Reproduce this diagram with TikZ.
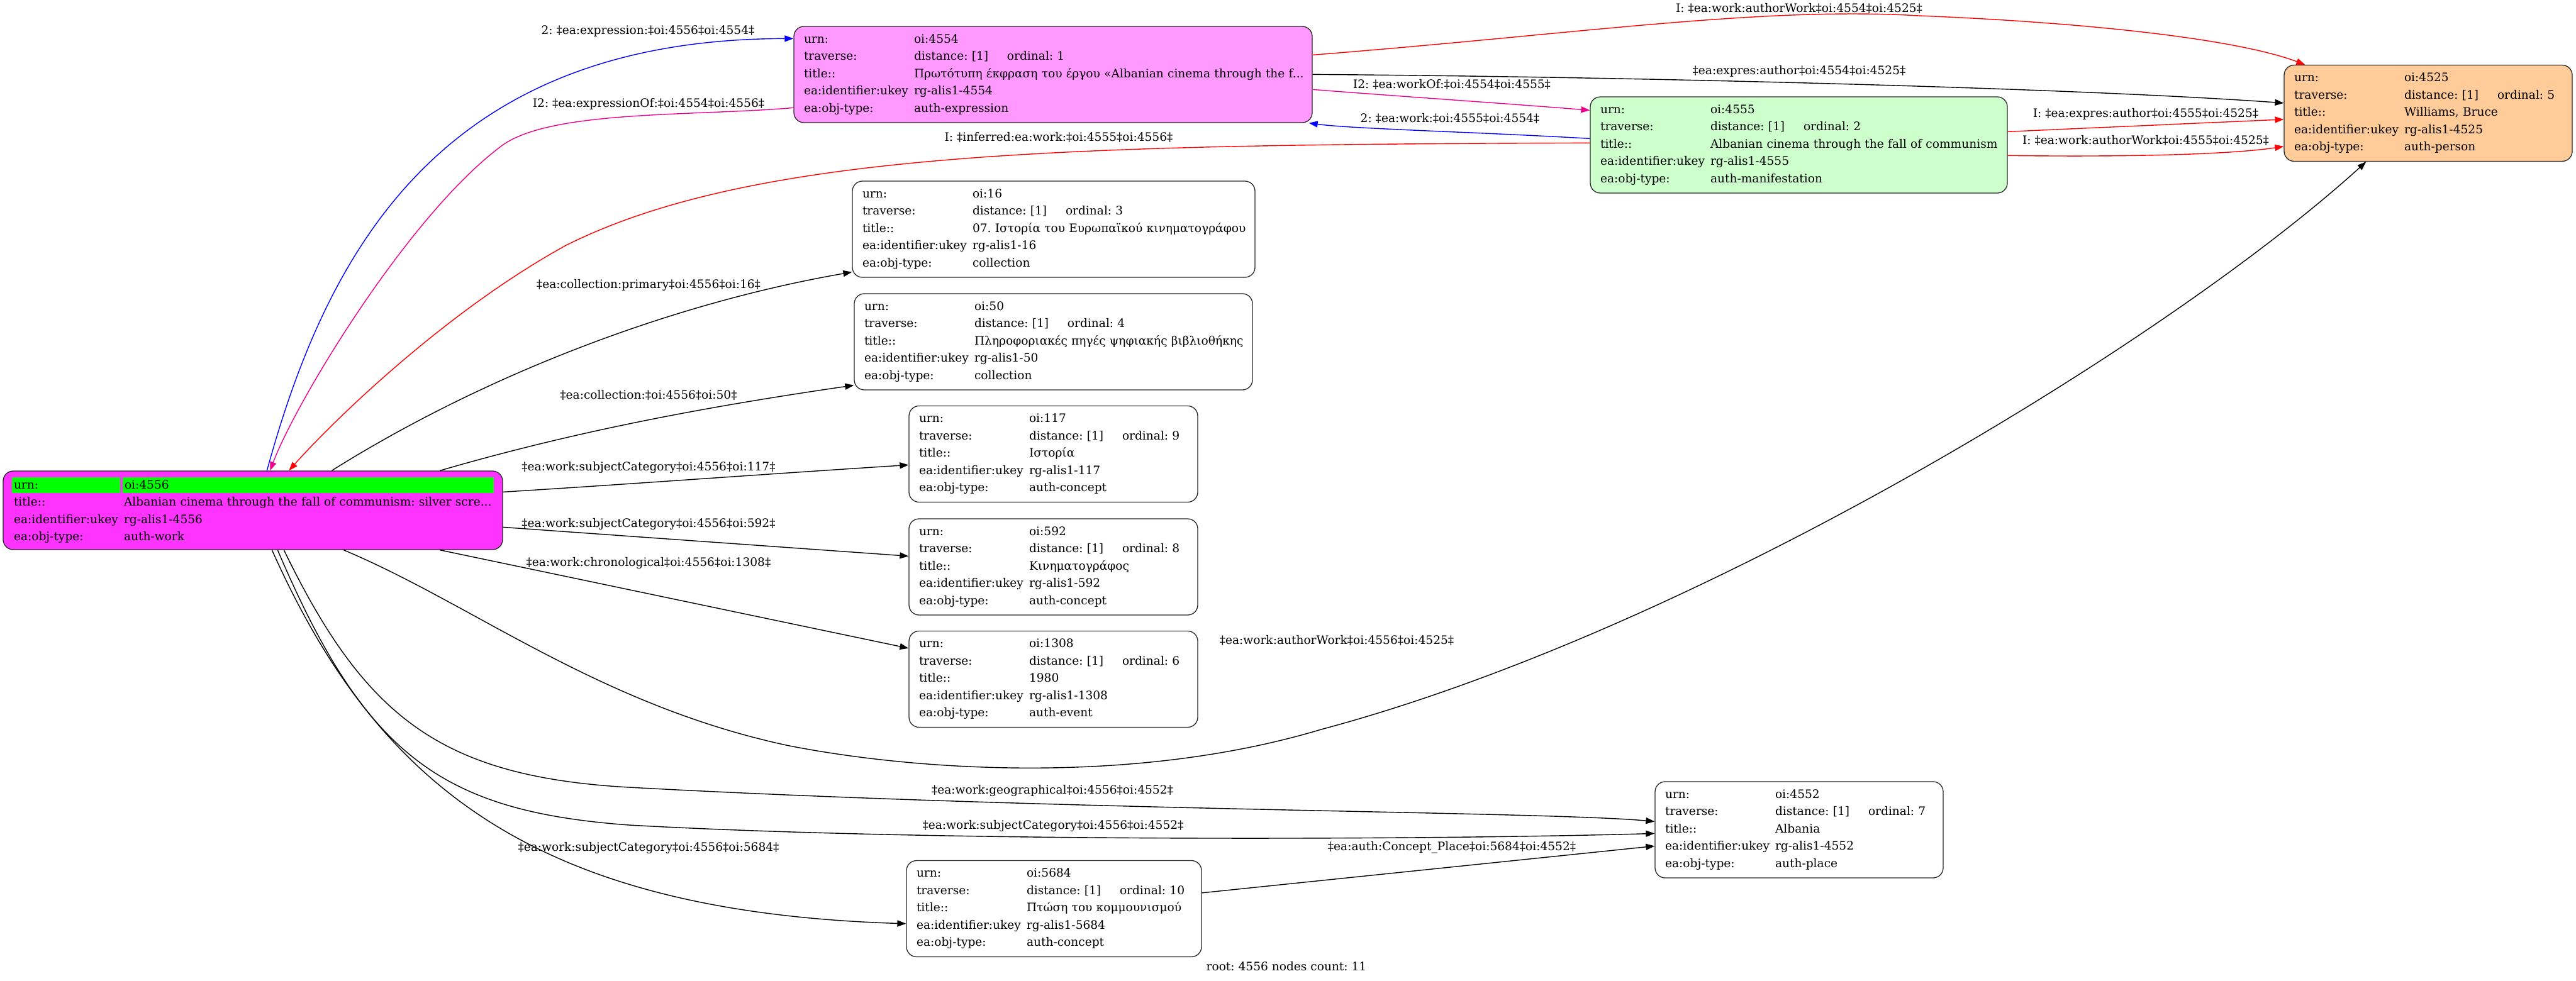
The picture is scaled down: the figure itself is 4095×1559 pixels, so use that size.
\documentclass[tikz,border=0pt]{standalone}
\usepackage{fontspec}
\setmainfont{DejaVu Serif}
\usetikzlibrary{arrows.meta,calc}
\frenchspacing
\definecolor{rootfill}{HTML}{FF33FF}
\definecolor{exprfill}{HTML}{FF99FF}
\definecolor{manifill}{HTML}{CCFFCC}
\definecolor{persfill}{HTML}{FFCC99}
\definecolor{gband}{HTML}{00FF00}
\newlength\rowwd
\newcommand\rw[2]{\makebox[\rowwd][l]{\makebox[87.5pt][l]{#1}#2}}
\newcommand\trv[1]{\rw{traverse:}{\makebox[74pt][l]{distance: [1]}ordinal: #1}}
\newcommand\fiverows[5]{\rw{urn:}{#1}\\\trv{#2}\\\rw{title::}{#3}\\\rw{ea:identifier:ukey}{#4}\\\rw{ea:obj-type:}{#5}}
\tikzset{
  txt/.style={font=\fontsize{9.3pt}{13.75pt}\selectfont\frenchspacing},
  rec/.style 2 args={txt, draw=black!85, line width=0.65pt, rounded corners=8pt,
    inner xsep=8pt, inner ysep=0pt, minimum height=76.5pt, text width=#1,
    align=left, fill=#2, execute at begin node={\setlength{\rowwd}{#1}}},
  elab/.style={txt, inner sep=0pt},
  edge/.style={line width=0.7pt, -{Triangle[length=7pt,width=5pt]}},
  eblack/.style={edge, black},
  ered/.style={edge, red},
  eblue/.style={edge, blue},
  emag/.style={edge, magenta},
}
\begin{document}
\begin{tikzpicture}[x=0.5pt,y=-0.5pt]
\useasboundingbox (0,0) rectangle (4095,1559);

% ---------- nodes ----------
\node[rec={381.5pt}{rootfill}, inner xsep=7pt, minimum height=62.5pt, text width=383pt] (r) at (402,811.5) {%
{\setlength{\fboxsep}{0pt}\colorbox{gband}{\rule[-3.5pt]{0pt}{12.5pt}\makebox[86pt][l]{\hspace*{1.5pt}urn:}}\hspace*{2pt}\colorbox{gband}{\rule[-3.5pt]{0pt}{12.5pt}\makebox[295pt][l]{\hspace*{1.5pt}oi:4556}}}\\
\hspace*{1.5pt}\rw{title::}{Albanian cinema through the fall of communism: silver scre...}\\
\hspace*{1.5pt}\rw{ea:identifier:ukey}{rg-alis1-4556}\\
\hspace*{1.5pt}\rw{ea:obj-type:}{auth-work}};

\node[rec={396pt}{exprfill}] (n4554) at (1674,118.5)
  {\fiverows{oi:4554}{1}{Πρωτότυπη έκφραση του έργου «Albanian cinema through the f...}{rg-alis1-4554}{auth-expression}};
\node[rec={315.5pt}{manifill}] (n4555) at (2859.5,230.5)
  {\fiverows{oi:4555}{2}{Albanian cinema through the fall of communism}{rg-alis1-4555}{auth-manifestation}};
\node[rec={213pt}{persfill}] (n4525) at (3860,180)
  {\fiverows{oi:4525}{5}{Williams, Bruce}{rg-alis1-4525}{auth-person}};
\node[rec={304pt}{white}] (n16) at (1675,364.5)
  {\fiverows{oi:16}{3}{07. Ιστορία του Ευρωπαϊκού κινηματογράφου}{rg-alis1-16}{collection}};
\node[rec={300.5pt}{white}] (n50) at (1674.5,543.5)
  {\fiverows{oi:50}{4}{Πληροφοριακές πηγές ψηφιακής βιβλιοθήκης}{rg-alis1-50}{collection}};
\node[rec={213.5pt}{white}] (n117) at (1674.5,722)
  {\fiverows{oi:117}{9}{Ιστορία}{rg-alis1-117}{auth-concept}};
\node[rec={213.5pt}{white}] (n592) at (1674.5,901.5)
  {\fiverows{oi:592}{8}{Κινηματογράφος}{rg-alis1-592}{auth-concept}};
\node[rec={213.5pt}{white}] (n1308) at (1674.5,1080)
  {\fiverows{oi:1308}{6}{1980}{rg-alis1-1308}{auth-event}};
\node[rec={213pt}{white}] (n4552) at (2860,1319.5)
  {\fiverows{oi:4552}{7}{Albania}{rg-alis1-4552}{auth-place}};
\node[rec={218.5pt}{white}] (n5684) at (1675.5,1445)
  {\fiverows{oi:5684}{10}{Πτώση του κομμουνισμού}{rg-alis1-5684}{auth-concept}};

\node[elab] (footer) at (2045,1537) {root: 4556 nodes count: 11};

% ---------- connectors ----------
\draw[eblue] ($(r.north west)+(420,0)$) .. controls (520,400) and (700,62) .. ($(n4554.north west)+(0,20)$);
\draw[emag] ($(n4554.north west)+(0,130)$) .. controls (1100,185) and (880,175) .. (800,230)
   .. controls (650,340) and (470,640) .. ($(r.north west)+(425,0)$);
\draw[eblue] ($(n4555.north west)+(0,67)$) .. controls (2350,210) and (2150,205) .. ($(n4554.south east)+(-6,0)$);
\draw[emag] ($(n4554.north east)+(0,101)$) .. controls (2250,155) and (2400,165) .. ($(n4555.north west)+(0,22)$);
\draw[ered] ($(n4554.north east)+(0,46)$) .. controls (2500,55) and (2800,10) .. (3050,25)
   .. controls (3300,35) and (3550,60) .. ($(n4525.north west)+(34,0)$);
\draw[eblack] ($(n4554.north east)+(0,77)$) .. controls (2600,122) and (3300,140) .. ($(n4525.north west)+(0,61)$);
\draw[ered] ($(n4555.north east)+(0,56)$) -- ($(n4525.north west)+(0,87)$);
\draw[ered] ($(n4555.north east)+(0,94)$) .. controls (3400,250) and (3550,245) .. ($(n4525.north west)+(0,130)$);
\draw[ered] ($(n4555.north west)+(0,74)$) .. controls (1700,230) and (1200,240) .. (900,390)
   .. controls (700,500) and (520,680) .. ($(r.north west)+(455,0)$);
\draw[eblack] ($(r.north west)+(523,0)$) .. controls (780,590) and (1080,480) .. ($(n16.south west)+(0,-9)$);
\draw[eblack] ($(r.north west)+(695,0)$) .. controls (900,690) and (1100,650) .. ($(n50.south west)+(0,-8)$);
\draw[eblack] ($(r.north east)+(0,34)$) .. controls (1000,770) and (1200,755) .. ($(n117.north west)+(0,94.5)$);
\draw[eblack] ($(r.north east)+(0,90)$) -- ($(n592.north west)+(0,60)$);
\draw[eblack] ($(r.south west)+(695,0)$) -- ($(n1308.north west)+(0,28)$);
\draw[eblack] ($(r.south west)+(542,0)$) .. controls (750,960) and (950,1120) .. (1250,1185)
   .. controls (1450,1225) and (1800,1250) .. (2100,1160)
   .. controls (2700,1000) and (3450,540) .. ($(n4525.south west)+(131,0)$);
\draw[eblack] ($(r.south west)+(447,0)$) .. controls (580,1140) and (700,1235) .. (1000,1252)
   .. controls (1700,1290) and (2450,1290) .. ($(n4552.north west)+(0,64)$);
\draw[eblack] ($(r.south west)+(437,0)$) .. controls (580,1200) and (700,1290) .. (1000,1312)
   .. controls (1500,1340) and (2300,1335) .. ($(n4552.north west)+(0,83)$);
\draw[eblack] ($(r.south west)+(428,0)$) .. controls (600,1250) and (850,1450) .. ($(n5684.north west)+(0,101)$);
\draw[eblack] ($(n5684.north east)+(0,52)$) -- ($(n4552.north west)+(0,103)$);

% ---------- connector labels ----------
\node[elab] (l1) at (1030,50) {2: ‡ea:expression:‡oi:4556‡oi:4554‡};
\node[elab] (l2) at (1031,165) {I2: ‡ea:expressionOf:‡oi:4554‡oi:4556‡};
\node[elab] (l3) at (2305,188) {2: ‡ea:work:‡oi:4555‡oi:4554‡};
\node[elab] (l4) at (2308,134) {I2: ‡ea:workOf:‡oi:4554‡oi:4555‡};
\node[elab] (l5) at (2860,13) {I: ‡ea:work:authorWork‡oi:4554‡oi:4525‡};
\node[elab] (l6) at (2860,113) {‡ea:expres:author‡oi:4554‡oi:4525‡};
\node[elab] (l7) at (3411,181) {I: ‡ea:expres:author‡oi:4555‡oi:4525‡};
\node[elab] (l8) at (3411,223) {I: ‡ea:work:authorWork‡oi:4555‡oi:4525‡};
\node[elab] (l9) at (1683,218) {I: ‡inferred:ea:work:‡oi:4555‡oi:4556‡};
\node[elab] (l10) at (1031,453) {‡ea:collection:primary‡oi:4556‡oi:16‡};
\node[elab] (l11) at (1031,628) {‡ea:collection:‡oi:4556‡oi:50‡};
\node[elab] (l12) at (1031,743) {‡ea:work:subjectCategory‡oi:4556‡oi:117‡};
\node[elab] (l13) at (1031,833) {‡ea:work:subjectCategory‡oi:4556‡oi:592‡};
\node[elab] (l14) at (1031,895) {‡ea:work:chronological‡oi:4556‡oi:1308‡};
\node[elab] (l15) at (2125,1018) {‡ea:work:authorWork‡oi:4556‡oi:4525‡};
\node[elab] (l16) at (1673,1257) {‡ea:work:geographical‡oi:4556‡oi:4552‡};
\node[elab] (l17) at (1674,1313) {‡ea:work:subjectCategory‡oi:4556‡oi:4552‡};
\node[elab] (l18) at (1031,1348) {‡ea:work:subjectCategory‡oi:4556‡oi:5684‡};
\node[elab] (l19) at (2308,1348) {‡ea:auth:Concept\_Place‡oi:5684‡oi:4552‡};
\end{tikzpicture}
\end{document}
